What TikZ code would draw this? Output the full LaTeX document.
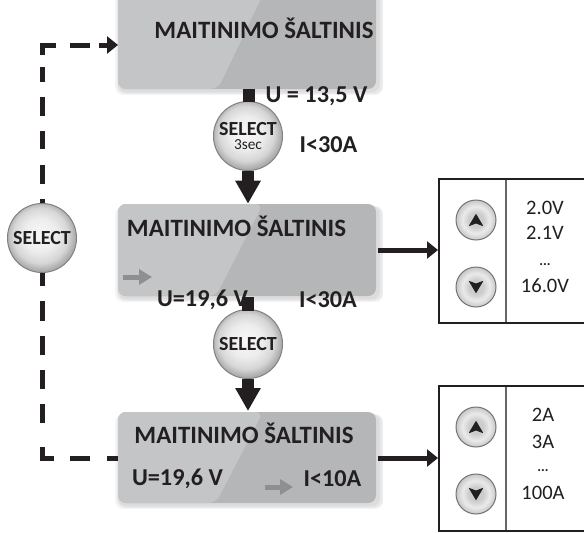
\documentclass[tikz,border=0pt]{standalone}
\usepackage{fontspec}
\setmainfont{Carlito}
\usetikzlibrary{arrows.meta,shadows,calc}
\definecolor{ink}{HTML}{231F20}
\definecolor{lcdlight}{HTML}{C4C5C7}
\definecolor{lcddark}{HTML}{B5B6B8}
\definecolor{greyarrow}{HTML}{8E8F91}
\newcommand{\pxu}{0.75pt}
\pgfdeclareradialshading{selball}{\pgfpoint{-2pt}{3pt}}{color(0pt)=(white!97!black);color(12pt)=(white!93!black);color(20pt)=(white!84!black);color(25pt)=(white!68!black);color(50pt)=(white!60!black)}
\pgfdeclareradialshading{keyball}{\pgfpoint{0pt}{0pt}}{color(0pt)=(white!80!black);color(9pt)=(white!80!black);color(17pt)=(white!92!black);color(25pt)=(white!78!black);color(50pt)=(white!75!black)}
\tikzset{
  x=\pxu,y=-\pxu,
  lcd/.style={rounded corners=8*\pxu,fill=lcddark,inner sep=0pt,minimum width=258*\pxu,
    general shadow={fill=black,opacity=.05,shadow xshift=1.5pt,shadow yshift=-2pt,shadow scale=1.015},
    general shadow={fill=black,opacity=.05,shadow xshift=2pt,shadow yshift=-2.5pt,shadow scale=1.03},
    general shadow={fill=black,opacity=.04,shadow xshift=1.5pt,shadow yshift=-3pt,shadow scale=1.04},
    path picture={\fill[lcdlight] (path picture bounding box.north west) -- ([xshift=#1*\pxu]path picture bounding box.north west) -- ([xshift=(#1-47)*\pxu]path picture bounding box.south west) -- (path picture bounding box.south west) -- cycle;}},
  title/.style={font=\bfseries\fontsize{18.7pt}{20pt}\selectfont,text=ink,inner sep=0pt},
  val/.style={font=\bfseries\fontsize{18.2pt}{20pt}\selectfont,text=ink,inner sep=0pt},
  panelval/.style={font=\fontsize{15.4pt}{17pt}\selectfont,text=ink,inner sep=0pt},
  dotsval/.style={font=\bfseries\fontsize{10.5pt}{12pt}\selectfont,text=ink,inner sep=0pt},
  selbtn/.style={circle,draw=black!50,line width=1*\pxu,shading=selball,minimum size=69*\pxu,inner sep=0pt,
    font=\bfseries\fontsize{15pt}{15pt}\selectfont,text=ink,align=center},
  keybtn/.style={circle,draw=black!55,line width=1*\pxu,shading=keyball,minimum size=40*\pxu,inner sep=0pt},
  panel/.style={draw=ink,line width=2*\pxu,fill=white,inner sep=0pt},
  thin divider/.style={draw=black!60,line width=1.5*\pxu},
  flow/.style={draw=ink,line width=12*\pxu},
  flowtip/.style={draw=ink,line width=12*\pxu,-{Triangle[length=23*\pxu,width=24*\pxu,fill=ink]}},
  side/.style={draw=ink,line width=5*\pxu,-{Triangle[length=11*\pxu,width=17*\pxu,fill=ink]}},
  dashline/.style={draw=ink,line width=5*\pxu},
  greyflow/.style={draw=greyarrow,line width=5*\pxu,-{Triangle[length=13*\pxu,width=15*\pxu,fill=greyarrow]}},
  keytri/.style={fill=ink,draw=ink,line width=.8*\pxu,line join=round}
}
\begin{document}
\begin{tikzpicture}
\useasboundingbox (0,0) rectangle (584,532);
\clip (0,0) rectangle (584,532);
% boxes
\node[lcd=147,minimum height=99*\pxu] (boxa) at (247,39.5) {};
\node[lcd=145,minimum height=92*\pxu] (boxb) at (247,250) {};
\node[lcd=145,minimum height=91*\pxu] (boxc) at (247,457.5) {};
% panels
\node[panel,minimum width=170*\pxu,minimum height=144*\pxu] (pa) at (524,251) {};
\node[panel,minimum width=170*\pxu,minimum height=145*\pxu] (pb) at (524,458.5) {};
\coordinate (pad1) at (506,180); \coordinate (pad2) at (506,322);
\coordinate (pbd1) at (506,387); \coordinate (pbd2) at (506,530);
\draw[thin divider] (pad1) -- (pad2);
\draw[thin divider] (pbd1) -- (pbd2);
% labels
\node[title] (ta) at (264,28) {MAITINIMO ŠALTINIS};
\node[title] (tb) at (236.5,226) {MAITINIMO ŠALTINIS};
\node[title] (tc) at (244,433) {MAITINIMO ŠALTINIS};
\node[val] (ua) at (316.5,96) {U = 13,5 V};
\node[val] (ia) at (328.5,145) {I<30A};
\node[val] (ub) at (202.5,300) {U=19,6 V};
\node[val] (ib) at (328,300) {I<30A};
\node[val] (uc) at (177.5,479) {U=19,6 V};
\node[val] (ic) at (332.5,479) {I<10A};
% buttons
\node[selbtn] (sa) at (248,136) {SELECT\\[-4pt]{\mdseries\fontsize{11.5pt}{11.5pt}\selectfont 3sec}};
\node[selbtn] (sb) at (248,344) {SELECT};
\node[selbtn] (sc) at (42,238) {SELECT};
% vertical flow
\draw[flow] (boxa.south -| sa) ++(1,0) -- ++(0,13);
\draw[flowtip] (sa.south) -- (boxb.north -| sa);
\draw[flow] (boxb.south -| sb) ++(0,1) -- ++(0,14);
\draw[flowtip] (sb.south) -- (248,411);
% side arrows
\coordinate (bout) at (378,250); \coordinate (cout) at (378,458);
\draw[side] (bout) -- (bout -| pa.west);
\draw[side] (cout) -- (cout -| pb.west);
% dashed loop
\coordinate (cornerb) at (42,458);
\coordinate (cornert) at (42,45);
\coordinate (topin) at (118,45);
\draw[dashline,dash pattern=on 11*\pxu off 17*\pxu on 20*\pxu off 16*\pxu on 23*\pxu off 24*\pxu on 19*\pxu off 15*\pxu on 19*\pxu off 15*\pxu on 19*\pxu off 15*\pxu on 20*\pxu off 15*\pxu on 30*\pxu off 30*\pxu] (118,458) -- (cornerb) -- (sc.south);
\draw[dashline,dash pattern=on 4*\pxu off 15*\pxu on 19*\pxu off 16*\pxu on 18*\pxu off 15*\pxu on 19*\pxu off 15*\pxu on 15*\pxu off 12*\pxu on 24*\pxu off 14*\pxu on 20*\pxu off 9*\pxu on 60*\pxu off 60*\pxu,-{Triangle[length=11*\pxu,width=17*\pxu,fill=ink]}] (sc.north) -- (cornert) -- (topin);
% grey arrows
\coordinate (gb1) at (123,277); \coordinate (gb2) at (152,277);
\coordinate (gc1) at (265,487); \coordinate (gc2) at (293,487);
\draw[greyflow] (gb1) -- (gb2);
\draw[greyflow] (gc1) -- (gc2);
% keys
\node[keybtn] (ku1) at (476,220) {};
\node[keybtn] (kd1) at (476,287) {};
\node[keybtn] (ku2) at (476,427) {};
\node[keybtn] (kd2) at (476,494) {};
\foreach \k in {ku1,ku2}{\fill[keytri] ($(\k)+(-6.5,5.5)$) -- ($(\k)+(0,-5.5)$) -- ($(\k)+(6.5,5.5)$) -- ($(\k)+(0,3)$) -- cycle;}
\foreach \k in {kd1,kd2}{\fill[keytri] ($(\k)+(-6.5,-5.5)$) -- ($(\k)+(0,5.5)$) -- ($(\k)+(6.5,-5.5)$) -- ($(\k)+(0,-3)$) -- cycle;}
% panel values
\node[panelval] (v1) at (545,208) {2.0V};
\node[panelval] (v2) at (545,233) {2.1V};
\node[dotsval] (v3) at (545,265) {...};
\node[panelval] (v4) at (545,286) {16.0V};
\node[panelval] (w1) at (543,415) {2A};
\node[panelval] (w2) at (543,442) {3A};
\node[dotsval] (w3) at (543,471) {...};
\node[panelval] (w4) at (543,493) {100A};
\end{tikzpicture}
\end{document}
